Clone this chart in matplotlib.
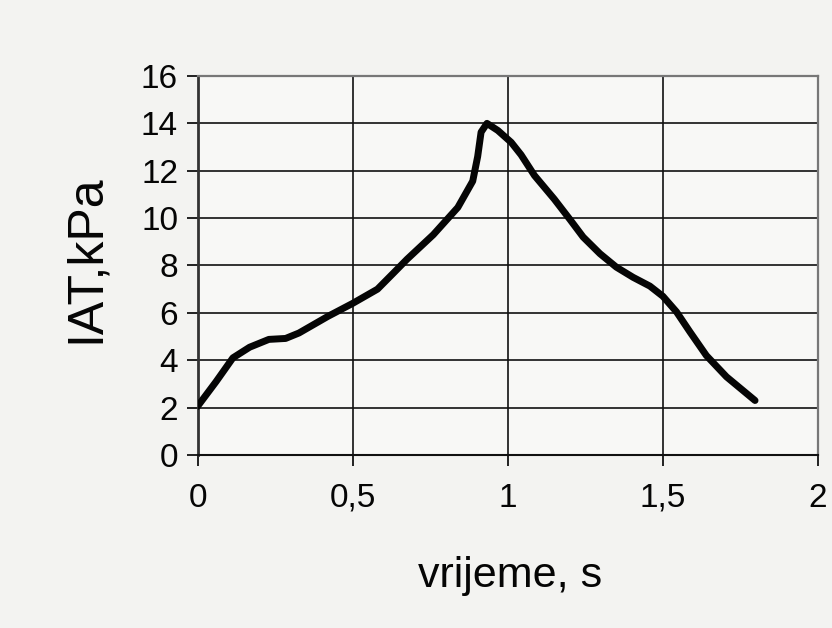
import matplotlib
matplotlib.use("Agg")
import matplotlib.pyplot as plt

# Pressure trace over time
time_s = [0.0, 0.06, 0.114, 0.168, 0.23, 0.284, 0.327, 0.42, 0.5, 0.58,
          0.633, 0.675, 0.76, 0.839, 0.887, 0.903, 0.914, 0.933, 0.968,
          1.011, 1.043, 1.086, 1.15, 1.2, 1.243, 1.297, 1.35, 1.404,
          1.458, 1.5, 1.544, 1.587, 1.64, 1.705, 1.797]
iat_kpa = [2.05, 3.1, 4.1, 4.55, 4.88, 4.92, 5.15, 5.85, 6.4, 7.0,
           7.7, 8.26, 9.3, 10.45, 11.56, 12.6, 13.63, 14.0, 13.7,
           13.2, 12.67, 11.8, 10.8, 9.95, 9.2, 8.5, 7.93, 7.5,
           7.13, 6.7, 6.04, 5.2, 4.2, 3.3, 2.3]

x_ticks = [0, 0.5, 1, 1.5, 2]
x_tick_labels = ["0", "0,5", "1", "1,5", "2"]
y_ticks = [0, 2, 4, 6, 8, 10, 12, 14, 16]

plt.rcParams["font.family"] = ["Liberation Sans", "DejaVu Sans"]

fig = plt.figure(figsize=(8.32, 6.28), dpi=100, facecolor="#f3f3f1")
ax = fig.add_axes([0.2374, 0.2755, 0.7458, 0.6035], facecolor="#f8f8f6")

ax.set_xlim(0, 2)
ax.set_ylim(0, 16)
ax.set_xticks(x_ticks)
ax.set_xticklabels(x_tick_labels)
ax.set_yticks(y_ticks)

ax.grid(True, color="#111111", linewidth=1.2)
ax.set_axisbelow(True)

ax.plot(time_s, iat_kpa, color="#050505", linewidth=5.0,
        solid_capstyle="round", solid_joinstyle="round", zorder=3)

for side in ("top", "right"):
    ax.spines[side].set_color("#777777")
    ax.spines[side].set_linestyle((0, (1, 1)))
    ax.spines[side].set_linewidth(1.6)
ax.spines["left"].set_color("#333333")
ax.spines["left"].set_linewidth(2.0)
ax.spines["bottom"].set_color("#111111")
ax.spines["bottom"].set_linewidth(1.5)

ax.tick_params(axis="both", direction="out", length=8, width=1.3,
               color="#111111", labelsize=24, labelcolor="#050505")
ax.tick_params(axis="x", pad=12)
ax.tick_params(axis="y", pad=6)

ax.set_xlabel("vrijeme, s", fontsize=31, color="#050505",
              verticalalignment="baseline")
ax.xaxis.set_label_coords(0.503, -0.348)
ax.set_ylabel("IAT,kPa", fontsize=36, color="#050505",
              verticalalignment="center")
ax.yaxis.set_label_coords(-0.18, 0.517)

fig.savefig("out.png", dpi=100, facecolor=fig.get_facecolor())
